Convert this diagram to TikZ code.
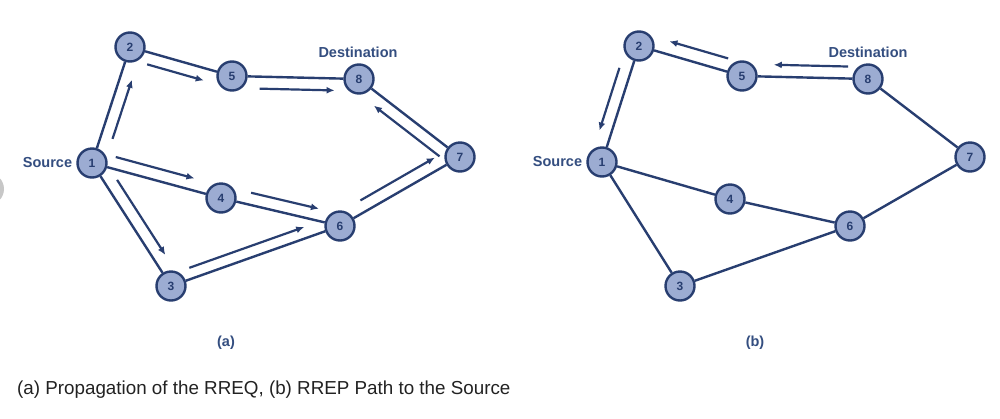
\documentclass[tikz,border=0pt]{standalone}
\usepackage{fontspec}
\setmainfont{Liberation Sans}
\usetikzlibrary{arrows.meta,calc}
\definecolor{navy}{RGB}{40,62,112}
\definecolor{nodefill}{RGB}{156,172,210}
\definecolor{lblcol}{RGB}{52,78,128}
\definecolor{capcol}{RGB}{34,34,34}
\tikzset{
  netnode/.style={circle,draw=navy,fill=nodefill,line width=2.4pt,minimum size=29pt,inner sep=0pt,
    text=navy,font=\fontsize{12}{12}\selectfont\bfseries},
  edge/.style={draw=navy,line width=2.4pt},
  flow/.style={draw=navy,line width=2.2pt,-{Latex[length=8pt,width=7pt]}},
  tag/.style={text=lblcol,font=\fontsize{14.5}{14.5}\selectfont\bfseries,inner sep=0pt}
}
\newcommand\flowarrow[6]{%
  \draw[flow] ($(#1)!#3!(#2)!#5pt!#6:(#2)$) -- ($(#1)!#4!(#2)!#5pt!#6:(#2)$);}
\begin{document}
\begin{tikzpicture}[x=1pt,y=-1pt]
\useasboundingbox (0,0) rectangle (1000,418);
\fill[white] (0,0) rectangle (1000,418);
\fill[black!22] (-12,189) circle (16);
% ---------- panel (a) ----------
\node[netnode] (a1) at (92,163) {1};
\node[netnode] (a2) at (130,47) {2};
\node[netnode] (a3) at (171,286) {3};
\node[netnode] (a4) at (221,198) {4};
\node[netnode] (a5) at (232,76) {5};
\node[netnode] (a6) at (340,226) {6};
\node[netnode] (a7) at (460,157) {7};
\node[netnode] (a8) at (359,79) {8};
\path[edge] (a1) -- (a2);
\path[edge] (a2) -- (a5);
\path[edge] (a5) -- (a8);
\path[edge] (a8) -- (a7);
\path[edge] (a1) -- (a4);
\path[edge] (a4) -- (a6);
\path[edge] (a6) -- (a7);
\path[edge] (a1) -- (a3);
\path[edge] (a3) -- (a6);
\node[tag,anchor=east] (srcA) at ($(a1.west)+(-4,0)$) {Source};
\node[tag] (dstA) at (358,52) {Destination};
\flowarrow{a1}{a2}{0.24}{0.75}{12}{-90}
\flowarrow{a2}{a5}{0.20}{0.755}{12}{-90}
\flowarrow{a5}{a8}{0.22}{0.81}{12}{-90}
\flowarrow{a7}{a8}{0.13}{0.78}{12}{90}
\flowarrow{a1}{a4}{0.16}{0.77}{12}{90}
\flowarrow{a4}{a6}{0.23}{0.80}{12}{90}
\flowarrow{a6}{a7}{0.22}{0.84}{12}{90}
\flowarrow{a1}{a3}{0.19}{0.80}{12}{90}
\flowarrow{a3}{a6}{0.13}{0.81}{11}{90}
\node[tag] (capA) at (226,343) {(a)};
% ---------- panel (b) ----------
\node[netnode] (b1) at (602,162) {1};
\node[netnode] (b2) at (639,46) {2};
\node[netnode] (b3) at (680,286) {3};
\node[netnode] (b4) at (730,199) {4};
\node[netnode] (b5) at (742,76) {5};
\node[netnode] (b6) at (850,226) {6};
\node[netnode] (b7) at (970,157) {7};
\node[netnode] (b8) at (868,79) {8};
\path[edge] (b1) -- (b2);
\path[edge] (b2) -- (b5);
\path[edge] (b5) -- (b8);
\path[edge] (b8) -- (b7);
\path[edge] (b1) -- (b4);
\path[edge] (b4) -- (b6);
\path[edge] (b6) -- (b7);
\path[edge] (b1) -- (b3);
\path[edge] (b3) -- (b6);
\node[tag,anchor=east] (srcB) at ($(b1.west)+(-4,0)$) {Source};
\node[tag] (dstB) at (868,52) {Destination};
\flowarrow{b5}{b2}{0.17}{0.74}{13}{-90}
\flowarrow{b8}{b5}{0.16}{0.75}{12}{-90}
\flowarrow{b2}{b1}{0.22}{0.76}{12}{-90}
\node[tag] (capB) at (755,343) {(b)};
% ---------- caption ----------
\node[anchor=base west,inner sep=0pt,text=capcol,font=\fontsize{18.8}{18.8}\selectfont] (caption) at (17,394)
  {(a) Propagation of the RREQ, (b) RREP Path to the Source};
\end{tikzpicture}
\end{document}
